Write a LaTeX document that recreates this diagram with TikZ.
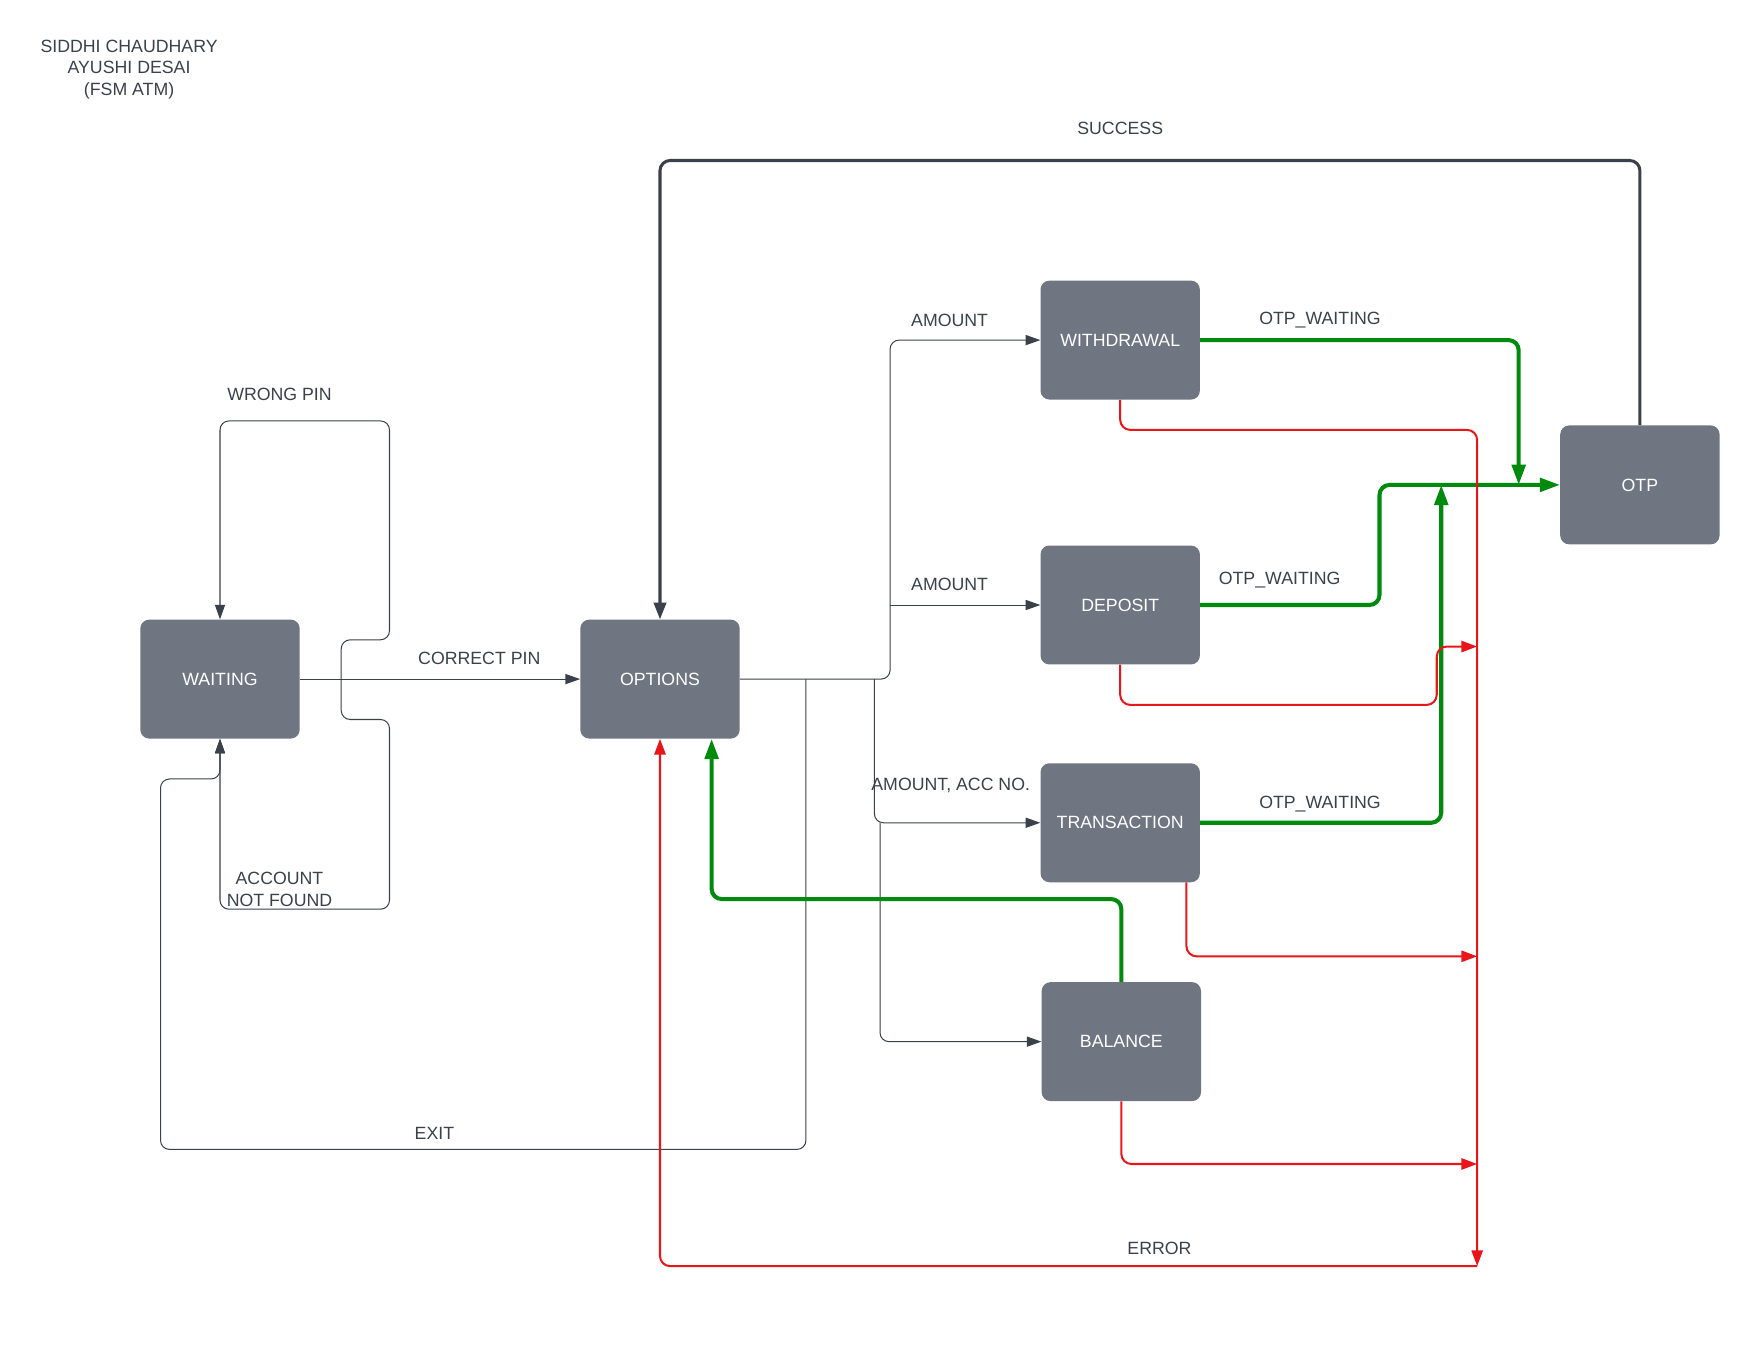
\documentclass[tikz,border=0pt]{standalone}
\usepackage{fontspec}
\setmainfont{Liberation Sans}
\usepackage{xcolor}
\usetikzlibrary{arrows.meta}

\definecolor{boxgray}{HTML}{6F7581}
\definecolor{inkgray}{HTML}{3A414A}
\definecolor{okgreen}{HTML}{008A0E}
\definecolor{errred}{HTML}{E8161A}

\tikzset{
  state/.style={fill=boxgray, text=white, rounded corners=8pt, inner sep=0pt,
    minimum width=142pt, minimum height=106pt},
  lbl/.style={text=inkgray},
  conn/.style={draw=inkgray, line width=0.9pt, rounded corners=8pt,
    -{Triangle[length=13pt,width=9pt]}},
  succline/.style={draw=inkgray, line width=2.7pt, rounded corners=9pt,
    -{Triangle[length=15pt,width=11pt]}},
  okline/.style={draw=okgreen, line width=3.6pt, rounded corners=9pt,
    -{Triangle[length=18pt,width=12pt]}},
  errline/.style={draw=errred, line width=1.8pt, rounded corners=9pt,
    -{Triangle[length=14pt,width=10pt]}}
}

\begin{document}
\begin{tikzpicture}[x=1pt, y=-1pt, font=\fontsize{15.8pt}{19.5pt}\selectfont]

\useasboundingbox (0,0) rectangle (1568,1211.7);

% Title
\node[lbl, align=center] (title) at (115,62) {SIDDHI CHAUDHARY\\AYUSHI DESAI\\(FSM ATM)};

% States
\node[state] (wait) at (196,605) {WAITING};
\node[state] (opt)  at (588,605) {OPTIONS};
\node[state] (wd)   at (998,303) {WITHDRAWAL};
\node[state] (dep)  at (998,539) {DEPOSIT};
\node[state] (tr)   at (998,733) {TRANSACTION};
\node[state] (bal)  at (999,928) {BALANCE};
\node[state] (otp)  at (1461,432) {OTP};

% Branch points
\coordinate (split) at (304,605);
\coordinate (exitp) at (718,605);
\coordinate (upfork) at (793,539);
\coordinate (trfork) at (779,605);
\coordinate (balfork) at (784,733);
\coordinate (errtop) at (1316,383);
\coordinate (errend) at (1316,1128);

% WAITING <-> OPTIONS
\draw[conn] (wait) -- (opt);
\draw[conn] (split) |- (347,570) -- (347,375) -| (wait.north);
\draw[conn] (split) |- (347,641) -- (347,810) -| (wait.south);
\draw[conn] (exitp) -- (718,1024) -| (143,694) -| (wait.south);

% OPTIONS -> choices
\draw[conn] (opt.east) -| (793,303) -- (wd.west);
\draw[conn] (upfork) -- (dep.west);
\draw[conn] (trfork) |- (tr.west);
\draw[conn] (balfork) |- (bal.west);

% OTP waiting
\draw[okline] (wd.east) -| (1353,432);
\draw[okline] (dep.east) -| (1229,432) -- (otp.west);
\draw[okline] (tr.east) -| (1284,432);
\draw[okline] (bal.north) |- (634,801) -- ([xshift=46pt]opt.south);

% Success
\draw[succline] (otp.north) |- (588,143) -- (opt.north);

% Errors
\draw[errline] (wd.south) |- (errtop) -- (errend);
\draw[errline] (dep.south) |- (1280,628) |- (1316,576);
\draw[errline] ([xshift=59pt]tr.south) |- (1316,852);
\draw[errline] (bal.south) |- (1316,1037);
\draw[errline] (errend) -| (opt.south);

% Labels
\node[lbl] (lwrong) at (249,351) {WRONG PIN};
\node[lbl, align=center] (lacc) at (249,792) {ACCOUNT\\NOT FOUND};
\node[lbl] (lcorr) at (427,587) {CORRECT PIN};
\node[lbl] (lexit) at (387,1010) {EXIT};
\node[lbl] (lsucc) at (998,114) {SUCCESS};
\node[lbl] (lamt1) at (846,285) {AMOUNT};
\node[lbl] (lamt2) at (846,521) {AMOUNT};
\node[lbl] (lamt3) at (847,700) {AMOUNT, ACC NO.};
\node[lbl] (lotp1) at (1176,285) {OTP\_WAITING};
\node[lbl] (lotp2) at (1140,517) {OTP\_WAITING};
\node[lbl] (lotp3) at (1176,716) {OTP\_WAITING};
\node[lbl] (lerr) at (1033,1112) {ERROR};

\end{tikzpicture}
\end{document}
